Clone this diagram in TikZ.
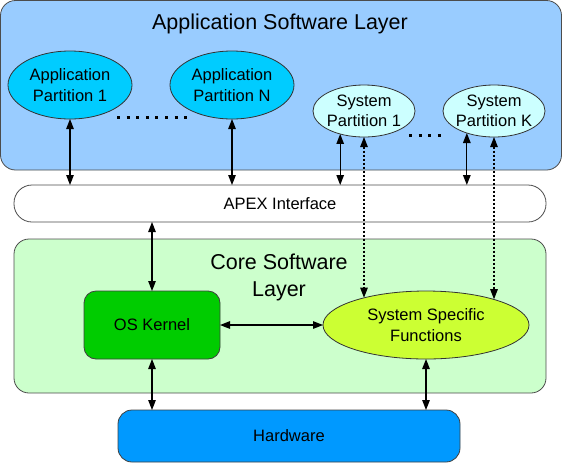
\documentclass[tikz,border=0pt]{standalone}
\usepackage{fontspec}
\setmainfont{Liberation Sans}
\usetikzlibrary{shapes.geometric,arrows.meta}
\definecolor{bleuapp}{HTML}{99CCFF}
\definecolor{cyanapp}{HTML}{00CCFF}
\definecolor{cyansys}{HTML}{CCFFFF}
\definecolor{vertcore}{HTML}{CCFFCC}
\definecolor{vertnoyau}{HTML}{00CC00}
\definecolor{jaunesys}{HTML}{CCFF33}
\definecolor{bleuhw}{HTML}{0099FF}
\newcommand\policepetite{\fontsize{16.5}{20.5}\selectfont}
\newcommand\policegrande{\fontsize{21.5}{27}\selectfont}
\begin{document}
\begin{tikzpicture}[x=1pt,y=-1pt,
        couche/.style={draw=black!70,line width=0.8pt,rounded corners=15pt,inner sep=0pt,outer sep=0pt},
        bulle/.style={ellipse,draw=black!80,line width=0.8pt,inner sep=0pt,outer sep=0pt,align=center,font=\policepetite},
        boite/.style={draw=black!75,line width=0.8pt,rounded corners=12pt,inner sep=0pt,outer sep=0pt,align=center,font=\policepetite},
        fleche/.style={{Triangle[length=10pt,width=7.5pt]}-{Triangle[length=10pt,width=7.5pt]},line width=1.3pt},
        pointille/.style={{Triangle[length=10pt,width=7.5pt]}-{Triangle[length=10pt,width=7.5pt]},line width=1.1pt,dash pattern=on 2pt off 2pt},
        points/.style={line width=3pt,dash pattern=on 3pt off 6.6pt}]
            \useasboundingbox (0,0) rectangle (564,469);
            % couches
            \node (app) at (281,85.25) [couche,fill=bleuapp,minimum width=561pt,minimum height=169.5pt] {};
            \node (titreapp) at (280,24) [font=\policegrande] {Application Software Layer};
            \node (apex) at (280,203.5) [couche,fill=white,rounded corners=18pt,minimum width=532pt,minimum height=37pt,font=\policepetite] {APEX Interface};
            \node (core) at (280,316) [couche,fill=vertcore,minimum width=532pt,minimum height=154pt] {};
            \node (titrecore) at (279,277) [font=\policegrande,align=center] {Core Software\\Layer};
            % partitions
            \node (app1) at (70,85) [bulle,fill=cyanapp,minimum width=124pt,minimum height=68pt] {Application\\Partition 1};
            \node (appn) at (232,85) [bulle,fill=cyanapp,minimum width=124pt,minimum height=68pt] {Application\\Partition N};
            \node (sp1) at (364,111) [bulle,fill=cyansys,minimum width=102pt,minimum height=52pt] {};
            \node at (sp1) [align=center,font=\policepetite] {System\\Partition 1};
            \node (spk) at (494,111) [bulle,fill=cyansys,minimum width=102pt,minimum height=52pt] {};
            \node at (spk) [align=center,font=\policepetite] {System\\Partition K};
            \draw [points] (117,117) -- (187,117);
            \draw [points] (409,135) -- (444,135) ;
            % noyau et fonctions
            \node (noyau) at (152,325) [boite,fill=vertnoyau,minimum width=136pt,minimum height=68pt] {OS Kernel};
            \node (ssf) at (426,325) [bulle,fill=jaunesys,minimum width=206pt,minimum height=68pt] {System Specific\\Functions};
            \node (hw) at (289,436) [boite,fill=bleuhw,rounded corners=14pt,minimum width=342pt,minimum height=52pt] {Hardware};
            % liaisons
            \draw [fleche] (app1.south) -- (app1.south |- apex.north);
            \draw [fleche] (appn.south) -- (appn.south |- apex.north);
            \draw [fleche] (sp1.224) -- (sp1.224 |- apex.north);
            \draw [fleche] (spk.219) -- (spk.219 |- apex.north);
            \draw [pointille] (sp1.south) -- (sp1.south |- ssf.156);
            \draw [pointille] (spk.south) -- (spk.south |- ssf.21);
            \draw [fleche] (noyau.north |- apex.south) -- (noyau.north);
            \draw [fleche] (noyau.east) -- (ssf.west);
            \draw [fleche] (noyau.south) -- (noyau.south |- hw.north);
            \draw [fleche] (ssf.south) -- (ssf.south |- hw.north);
        \end{tikzpicture}
\end{document}
